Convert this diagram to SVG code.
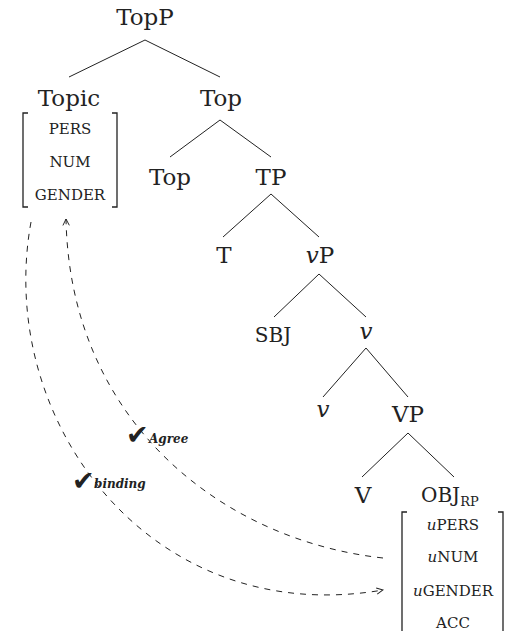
<svg xmlns="http://www.w3.org/2000/svg" width="506" height="631" viewBox="0 0 506 631">
<defs>
<style>
text{font-family:"DejaVu Serif","Liberation Serif",serif;fill:#222;text-anchor:middle}
.n{font-size:23px}
.s{font-size:20px}
.f{font-size:15px}
.st{text-anchor:start}
.lab{font-size:12px;font-style:italic;font-weight:bold;text-anchor:start}
.chk{font-family:"DejaVu Sans",sans-serif;font-size:27px;text-anchor:start}
.br{fill:none;stroke:#222;stroke-width:1.3}
.e{stroke:#222;stroke-width:1;fill:none}
.d{stroke:#222;stroke-width:1;fill:none;stroke-dasharray:6,6}
</style>
<marker id="ah" viewBox="0 0 10 10" refX="9" refY="5" markerWidth="8" markerHeight="8" markerUnits="userSpaceOnUse" orient="auto">
<path d="M1,1 L9,5 L1,9" fill="none" stroke="#222" stroke-width="1.2"/>
</marker>
</defs>
<rect width="506" height="631" fill="#fff"/>
<g id="connectors">
<path class="e" d="M145,40 L69,77 M145,40 L220,77"/>
<path class="e" d="M220,120 L170,157 M220,120 L271,157"/>
<path class="e" d="M271,194 L223,237 M271,194 L319,237"/>
<path class="e" d="M319,274 L274,317 M319,274 L366,317"/>
<path class="e" d="M366,348 L323,397 M366,348 L408,397"/>
<path class="e" d="M408,433 L362,477 M408,433 L454,477"/>
<path id="agree" class="d" d="M383,558 C220,540 70,420 66,219" marker-end="url(#ah)"/>
<path id="binding" class="d" d="M31,222 C-5,420 150,630 383,590" marker-end="url(#ah)"/>
</g>
<g id="TopP"><text class="n" x="145" y="25">TopP</text></g>
<g id="Topic">
<text class="n" x="69" y="106">Topic</text>
<path class="br" d="M28,113 L23,113 L23,207 L28,207 M112,113 L117,113 L117,207 L112,207"/>
<text class="f" x="70" y="134">PERS</text>
<text class="f" x="70" y="167">NUM</text>
<text class="f" x="70" y="200">GENDER</text>
</g>
<g id="Top1"><text class="n" x="221" y="106">Top</text></g>
<g id="Top2"><text class="n" x="170" y="185">Top</text></g>
<g id="TP"><text class="n" x="271" y="185">TP</text></g>
<g id="T"><text class="n" x="224" y="263">T</text></g>
<g id="vP"><text class="n" x="320" y="263"><tspan font-style="italic">v</tspan>P</text></g>
<g id="SBJ"><text class="s" x="273" y="342">SBJ</text></g>
<g id="vbar"><text class="n" x="366" y="339" font-style="italic">v</text></g>
<g id="v"><text class="n" x="323" y="417" font-style="italic">v</text></g>
<g id="VP"><text class="n" x="408" y="422">VP</text></g>
<g id="V"><text class="n" x="363" y="503">V</text></g>
<g id="OBJ">
<text class="s st" x="421" y="502">OBJ<tspan font-size="13" dy="4">RP</tspan></text>
<path class="br" d="M407,512 L402,512 L402,631 M498,512 L503,512 L503,631"/>
<text class="f" x="453" y="530"><tspan font-style="italic">u</tspan>PERS</text>
<text class="f" x="453" y="562"><tspan font-style="italic">u</tspan>NUM</text>
<text class="f" x="453" y="596"><tspan font-style="italic">u</tspan>GENDER</text>
<text class="f" x="453" y="628">ACC</text>
</g>
<g id="labels">
<text class="chk" x="126" y="444">✔</text>
<text class="lab" x="149" y="443">Agree</text>
<text class="chk" x="72" y="490">✔</text>
<text class="lab" x="94" y="488">binding</text>
</g>
</svg>
